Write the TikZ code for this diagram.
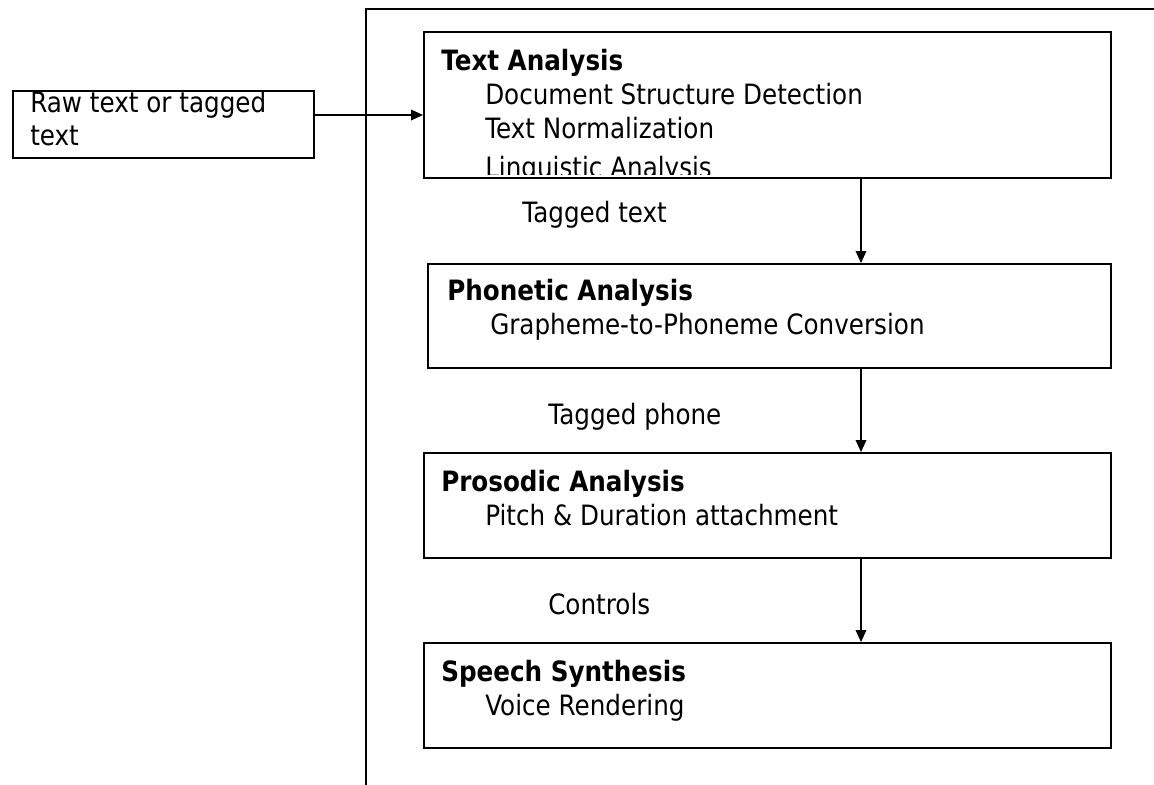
\documentclass[tikz,border=0pt]{standalone}
\usepackage{fontspec}
\setmainfont[FakeStretch=0.88]{DejaVu Sans}
\usetikzlibrary{arrows.meta}
\tikzset{
	stage/.style={draw, line width=1.4pt, inner sep=0pt, anchor=north west},
	head/.style={anchor=base west, inner sep=0pt, font=\bfseries\fontsize{21}{24}\selectfont},
	item/.style={anchor=base west, inner sep=0pt, font=\fontsize{21}{24}\selectfont},
	flow/.style={-{Triangle[width=8pt,length=9pt]}, line width=1pt}
}
\begin{document}
\begin{tikzpicture}[x=0.75pt, y=-0.75pt]
		\useasboundingbox (0, 0) rectangle (1154, 785);
		\draw[line width=1.4pt] (366, 800) -- (366, 9) -- (1170, 9);
		\node[stage, minimum width=225.75pt, minimum height=50.25pt] (raw) at (12, 90) {};
		\node[stage, minimum width=515.25pt, minimum height=109.5pt] (text) at (423, 31) {};
		\node[stage, minimum width=512.25pt, minimum height=78pt] (phonetic) at (427, 263) {};
		\node[stage, minimum width=515.25pt, minimum height=78.75pt] (prosodic) at (423, 452) {};
		\node[stage, minimum width=515.25pt, minimum height=78.75pt] (speech) at (423, 642) {};
		\node[item] (rawa) at (30, 112) {Raw text or tagged};
		\node[item] (rawb) at (30, 145) {text};
		\node[head] (texth) at (441, 70) {Text Analysis};
		\node[item] (texta) at (485, 104) {Document Structure Detection};
		\node[item] (textb) at (485, 138) {Text Normalization};
		\begin{scope}
			\clip (text.north west) rectangle ([yshift=3pt]text.south east);
			\node[item] (textc) at (485, 177) {Linguistic Analysis};
		\end{scope}
		\node[head] (phonetich) at (447, 300) {Phonetic Analysis};
		\node[item] (phonetica) at (490, 334) {Grapheme-to-Phoneme Conversion};
		\node[head] (prosodich) at (441, 491) {Prosodic Analysis};
		\node[item] (prosodica) at (485, 525) {Pitch \& Duration attachment};
		\node[head] (speechh) at (441, 681) {Speech Synthesis};
		\node[item] (speecha) at (485, 715) {Voice Rendering};
		\node[item] (tagtext) at (522, 222) {Tagged text};
		\node[item] (tagphone) at (548, 424) {Tagged phone};
		\node[item] (controls) at (548, 614) {Controls};
		\draw[flow] (raw.east |- 0, 115) -- (text.west |- 0, 115);
		\draw[flow] (text.south -| 861, 0) -- (phonetic.north -| 861, 0);
		\draw[flow] (phonetic.south -| 861, 0) -- (prosodic.north -| 861, 0);
		\draw[flow] (prosodic.south -| 861, 0) -- (speech.north -| 861, 0);
	\end{tikzpicture}
\end{document}
